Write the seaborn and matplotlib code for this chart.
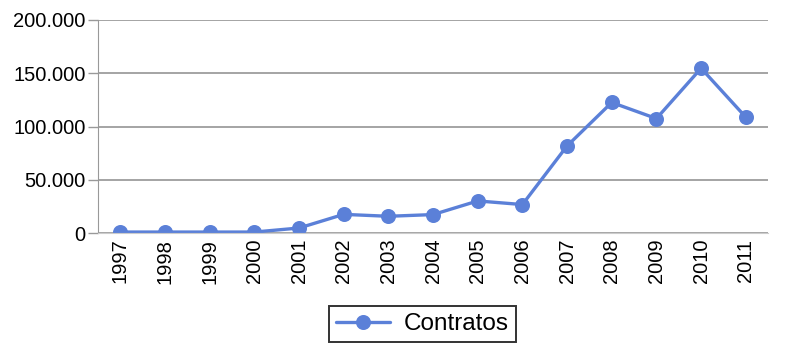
import pandas as pd
import matplotlib
matplotlib.use("Agg")
import matplotlib.pyplot as plt
import seaborn as sns
from matplotlib.ticker import FuncFormatter, FixedLocator

years = ['1997', '1998', '1999', '2000', '2001', '2002', '2003', '2004',
         '2005', '2006', '2007', '2008', '2009', '2010', '2011']
contratos = [1000, 1000, 1000, 1000, 4800, 17600, 15800, 17400,
             30200, 26800, 81800, 122600, 107500, 154700, 108800]
y_ticks = [0, 50000, 100000, 150000, 200000]

df = pd.DataFrame({'year': years, 'contratos': contratos})

sns.set_style('white')
plt.rcParams['font.family'] = ['Liberation Sans', 'DejaVu Sans']
plt.rcParams['text.color'] = 'black'
plt.rcParams['xtick.labelcolor'] = 'black'
plt.rcParams['ytick.labelcolor'] = 'black'

fig = plt.figure(figsize=(7.87, 3.57), dpi=100)
ax = fig.add_axes([0.1245, 0.347, 0.8515, 0.597])

line_color = '#5b80d8'
sns.pointplot(data=df, x='year', y='contratos', color=line_color, markers='o',
              markersize=9, linewidth=2.4, label='Contratos', ax=ax)

ax.set_ylim(0, 200000)
ax.set_xlim(-0.5, len(years) - 0.5)
ax.set_yticks(y_ticks)
ax.yaxis.set_major_formatter(FuncFormatter(lambda v, p: f"{int(v):,}".replace(",", ".")))
ax.grid(axis='y', color='#8c8c8c', linewidth=1.1)
ax.set_axisbelow(True)

ax.set_xlabel('')
ax.set_ylabel('')
ax.tick_params(axis='x', which='major', length=0, labelsize=14.5, rotation=90, pad=4)
ax.xaxis.set_minor_locator(FixedLocator([i - 0.5 for i in range(len(years) + 1)]))
ax.tick_params(axis='x', which='minor', length=6, color='#999999', width=1)
ax.tick_params(axis='y', length=7, color='#999999', width=1, labelsize=14.5, pad=2, left=True)

for s in ['top', 'right']:
    ax.spines[s].set_visible(False)
ax.spines['left'].set_color('#999999')
ax.spines['bottom'].set_color('#cccccc')

leg = ax.legend(loc='center', bbox_to_anchor=(0.537, 0.092), bbox_transform=fig.transFigure,
                fontsize=17.5, frameon=True, fancybox=False, handlelength=2.2,
                borderpad=0.3, handletextpad=0.6)
leg.get_frame().set_edgecolor('black')
leg.get_frame().set_linewidth(1.4)

fig.savefig('out.png', dpi=100)
